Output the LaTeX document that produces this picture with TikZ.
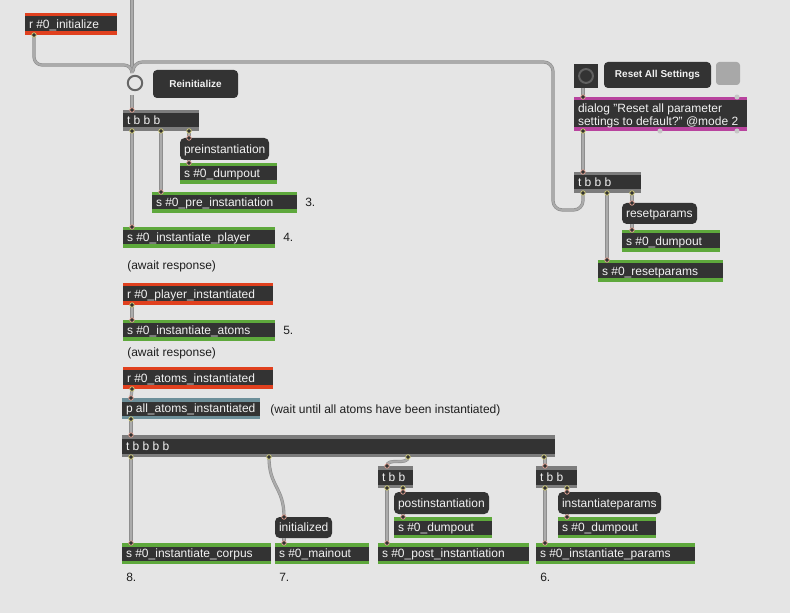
\documentclass[tikz,border=0pt]{standalone}
\usepackage{fontspec}
\setmainfont{Liberation Sans}
\usetikzlibrary{calc}
\definecolor{bgc}{HTML}{E5E5E5}
\definecolor{bodyc}{HTML}{333333}
\definecolor{redc}{HTML}{E0401E}
\definecolor{greenc}{HTML}{5EA83C}
\definecolor{trigc}{HTML}{7C7C7C}
\definecolor{pc}{HTML}{6D8F99}
\definecolor{magc}{HTML}{B8439E}
\definecolor{cordc}{HTML}{ABABAB}
\definecolor{cordedge}{HTML}{8E8E8E}
\definecolor{inc}{HTML}{E9A596}
\definecolor{outc}{HTML}{D8D27A}
\definecolor{txtc}{HTML}{F2F2F2}
\definecolor{cmtc}{HTML}{1E1E1E}
\tikzset{
  objbox/.style={inner sep=0pt, outer sep=0pt, draw=none},
  objtext/.style={inner sep=0pt, outer sep=0pt, text=txtc, font=\fontsize{9}{9.75}\selectfont},
  boldtext/.style={inner sep=0pt, text=txtc, font=\bfseries\fontsize{7.5}{9}\selectfont},
  cmt/.style={inner sep=0pt, text=cmtc, font=\fontsize{9}{11}\selectfont, anchor=base west},
  cord/.style={draw=cordedge, line width=0.45pt, double=cordc, double distance=1.5pt},
  inport/.style={fill=bodyc, draw=inc, line width=0.5pt},
  outport/.style={fill=bodyc, draw=outc, line width=0.5pt},
  freeport/.style={fill=gray!45, draw=none},
}
% name, x1, y1, x2, y2, bar colour, text
\newcommand\mobj[7]{%
  \node[objbox, fill=#6, minimum width={(#4-#2)*0.75pt}, minimum height={(#5-#3)*0.75pt}] (#1) at ({(#2+#4)/2},{(#3+#5)/2}) {};
  \fill[bodyc] ($(#1.north west)+(0,3.5)$) rectangle ($(#1.south east)+(0,-3.5)$);
  \node[objtext, anchor=base west] (#1t) at ($(#1.west)+(4,4.4)$) {#7};
}
% name, x1, y1, x2, y2, text
\newcommand\mmsg[6]{%
  \node[objbox, fill=bodyc, rounded corners=3.5pt, minimum width={(#4-#2)*0.75pt}, minimum height={(#5-#3)*0.75pt}] (#1) at ({(#2+#4)/2},{(#3+#5)/2}) {};
  \node[objtext, anchor=base west] (#1t) at ($(#1.west)+(4,4.4)$) {#6};
}
\newcommand\pin[2]{\path[inport] (#1,0 |- #2.north) circle[radius=1.7pt];}
\newcommand\pout[2]{\path[outport] (#1,0 |- #2.south) circle[radius=1.7pt];}
\begin{document}
\begin{tikzpicture}[x=0.75pt,y=-0.75pt]
\fill[bgc] (0,0) rectangle (790,613);
\useasboundingbox (0,0) rectangle (790,613);

% ---------- left column ----------
\coordinate (topsrc) at (132,0);
\mobj{rinit}{25}{13}{117}{35}{redc}{r \#0\_initialize}
\node[objbox, minimum width=18pt, minimum height=18pt] (rebtn) at (135,83) {};
\draw[draw=black!60, line width=1.5pt] (rebtn.center) circle[radius=5.4pt];
\node[objbox, fill=bodyc, rounded corners=3pt, minimum width={85*0.75pt}, minimum height={28*0.75pt}] (relbl) at (195.5,84) {};
\node[boldtext] (relblt) at (relbl.center) {Reinitialize};

\mobj{tbbbL}{123}{110}{199}{131}{trigc}{t b b b}
\mmsg{msgpre}{180}{138}{269}{160}{preinstantiation}
\mobj{dumpA}{180}{163}{277}{184}{greenc}{s \#0\_dumpout}
\mobj{preinst}{152}{192}{297}{213}{greenc}{s \#0\_pre\_instantiation}
\node[cmt] (c3) at (305,206.5) {3.};
\mobj{player}{123}{227}{275}{248}{greenc}{s \#0\_instantiate\_player}
\node[cmt] (c4) at (283,241.5) {4.};
\node[cmt] (aw1) at (127,269.5) {(await response)};
\mobj{rplayer}{123}{283}{273}{305}{redc}{r \#0\_player\_instantiated}
\mobj{atoms}{123}{320}{275}{341}{greenc}{s \#0\_instantiate\_atoms}
\node[cmt] (c5) at (283,334.5) {5.};
\node[cmt] (aw2) at (127,356.5) {(await response)};
\mobj{ratoms}{123}{367}{273}{389}{redc}{r \#0\_atoms\_instantiated}
\mobj{pall}{122}{398}{260}{419}{pc}{p all\_atoms\_instantiated}
\node[cmt] (cwait) at (270,413.5) {(wait until all atoms have been instantiated)};
\mobj{tfive}{122}{435}{555}{457}{trigc}{t b b b b}

% ---------- bottom row ----------
\mobj{corpus}{122}{543}{271}{564}{greenc}{s \#0\_instantiate\_corpus}
\node[cmt] (c8) at (126,581.5) {8.};
\mmsg{msginit}{275}{517}{332}{538}{initialized}
\mobj{mainout}{275}{543}{369}{564}{greenc}{s \#0\_mainout}
\node[cmt] (c7) at (279,581.5) {7.};
\mobj{tbbL}{378}{466}{413}{488}{trigc}{t b b}
\mmsg{msgpost}{394}{492}{489}{514}{postinstantiation}
\mobj{dumpB}{394}{517}{492}{538}{greenc}{s \#0\_dumpout}
\mobj{postinst}{378}{543}{529}{564}{greenc}{s \#0\_post\_instantiation}
\mobj{tbbR}{536}{466}{577}{488}{trigc}{t b b}
\mmsg{msgip}{558}{492}{661}{514}{instantiateparams}
\mobj{dumpC}{558}{517}{656}{538}{greenc}{s \#0\_dumpout}
\mobj{params}{536}{543}{695}{564}{greenc}{s \#0\_instantiate\_params}
\node[cmt] (c6) at (540,581.5) {6.};

% ---------- right group ----------
\node[objbox, fill=bodyc, minimum width=18pt, minimum height=18pt] (rsbtn) at (586,76) {};
\draw[draw=black!62, line width=1.5pt] (rsbtn.center) circle[radius=5.2pt];
\node[objbox, fill=bodyc, rounded corners=3pt, minimum width={107*0.75pt}, minimum height={26*0.75pt}] (rslbl) at (657.5,75) {};
\node[boldtext] (rslblt) at (rslbl.center) {Reset All Settings};
\node[objbox, fill=black!34, rounded corners=2.5pt, minimum width=18pt, minimum height={23*0.75pt}] (rsgray) at (728,73.5) {};
\node[objbox, fill=magc, minimum width={173*0.75pt}, minimum height={34*0.75pt}] (dialog) at (660.5,114) {};
\fill[bodyc] ($(dialog.north west)+(0,3.5)$) rectangle ($(dialog.south east)+(0,-3.5)$);
\node[objtext, anchor=west, align=left] (dialogt) at ($(dialog.west)+(4,1.5)$) {dialog "Reset all parameter\\settings to default?" @mode 2};
\mobj{tbbbR}{574}{172}{641}{193}{trigc}{t b b b}
\mmsg{msgreset}{622}{203}{697}{224}{resetparams}
\mobj{dumpD}{622}{230}{720}{252}{greenc}{s \#0\_dumpout}
\mobj{resetp}{598}{260}{723}{282}{greenc}{s \#0\_resetparams}

% ---------- cords ----------
\draw[cord] (topsrc) -- (132,0 |- rebtn.north);
\draw[cord, rounded corners=6pt] (34,0 |- rinit.south) -- (34,65) -- (132,65) -- (132,0 |- rebtn.north);
\draw[cord, rounded corners=7pt] (583,0 |- tbbbR.south) -- (583,210) -- (553,210) -- (553,62) -- (133,62) -- (133,0 |- rebtn.north);
\draw[cord] (132,0 |- rebtn.south) -- (132,0 |- tbbbL.north);
\draw[cord] (132,0 |- tbbbL.south) -- (132,0 |- player.north);
\draw[cord] (161,0 |- tbbbL.south) -- (161,0 |- preinst.north);
\draw[cord] (189,0 |- tbbbL.south) -- (189,0 |- msgpre.north);
\draw[cord] (189,0 |- msgpre.south) -- (189,0 |- dumpA.north);
\draw[cord] (132,0 |- rplayer.south) -- (132,0 |- atoms.north);
\draw[cord] (132,0 |- ratoms.south) -- (131,0 |- pall.north);
\draw[cord] (131,0 |- pall.south) -- (131,0 |- tfive.north);
\draw[cord] (131,0 |- tfive.south) -- (131,0 |- corpus.north);
\draw[cord] (269,0 |- tfive.south) .. controls (269,487) and (284,487) .. (284,0 |- msginit.north);
\draw[cord] (284,0 |- msginit.south) -- (284,0 |- mainout.north);
\draw[cord] (408,0 |- tfive.south) .. controls (408,466) and (387,457) .. (387,0 |- tbbL.north);
\draw[cord] (545,0 |- tfive.south) -- (545,0 |- tbbR.north);
\draw[cord] (387,0 |- tbbL.south) -- (387,0 |- postinst.north);
\draw[cord] (403,0 |- tbbL.south) -- (403,0 |- msgpost.north);
\draw[cord] (403,0 |- msgpost.south) -- (403,0 |- dumpB.north);
\draw[cord] (545,0 |- tbbR.south) -- (545,0 |- params.north);
\draw[cord] (567,0 |- tbbR.south) -- (567,0 |- msgip.north);
\draw[cord] (567,0 |- msgip.south) -- (567,0 |- dumpC.north);
\draw[cord] (583,0 |- rsbtn.south) -- (583,0 |- dialog.north);
\draw[cord] (583,0 |- dialog.south) -- (583,0 |- tbbbR.north);
\draw[cord] (607,0 |- tbbbR.south) -- (607,0 |- resetp.north);
\draw[cord] (632,0 |- tbbbR.south) -- (632,0 |- msgreset.north);
\draw[cord] (632,0 |- msgreset.south) -- (632,0 |- dumpD.north);

% ---------- ports ----------
\pout{34}{rinit}
\pin{132}{tbbbL} \pout{132}{tbbbL} \pout{161}{tbbbL} \pout{189}{tbbbL}
\pin{189}{msgpre} \pin{189}{dumpA} \pin{161}{preinst} \pin{132}{player}
\pout{132}{rplayer} \pin{132}{atoms}
\pout{132}{ratoms} \pin{131}{pall} \pout{131}{pall}
\pin{131}{tfive} \pout{131}{tfive} \pout{269}{tfive} \pout{408}{tfive} \pout{544}{tfive}
\pin{131}{corpus} \pin{284}{msginit} \pin{284}{mainout}
\pin{387}{tbbL} \pout{387}{tbbL} \pout{403}{tbbL} \pin{403}{msgpost} \pin{403}{dumpB} \pin{387}{postinst}
\pin{545}{tbbR} \pout{545}{tbbR} \pout{567}{tbbR} \pin{567}{msgip} \pin{567}{dumpC} \pin{545}{params}
\pin{583}{dialog} \pout{583}{dialog}
\path[freeport] (737,0 |- dialog.north) circle[radius=1.9pt];
\path[freeport] (660,0 |- dialog.south) circle[radius=1.9pt];
\path[freeport] (737,0 |- dialog.south) circle[radius=1.9pt];
\pin{583}{tbbbR} \pout{583}{tbbbR} \pout{607}{tbbbR} \pout{632}{tbbbR}
\pin{632}{msgreset} \pin{632}{dumpD} \pin{607}{resetp}
\end{tikzpicture}
\end{document}
